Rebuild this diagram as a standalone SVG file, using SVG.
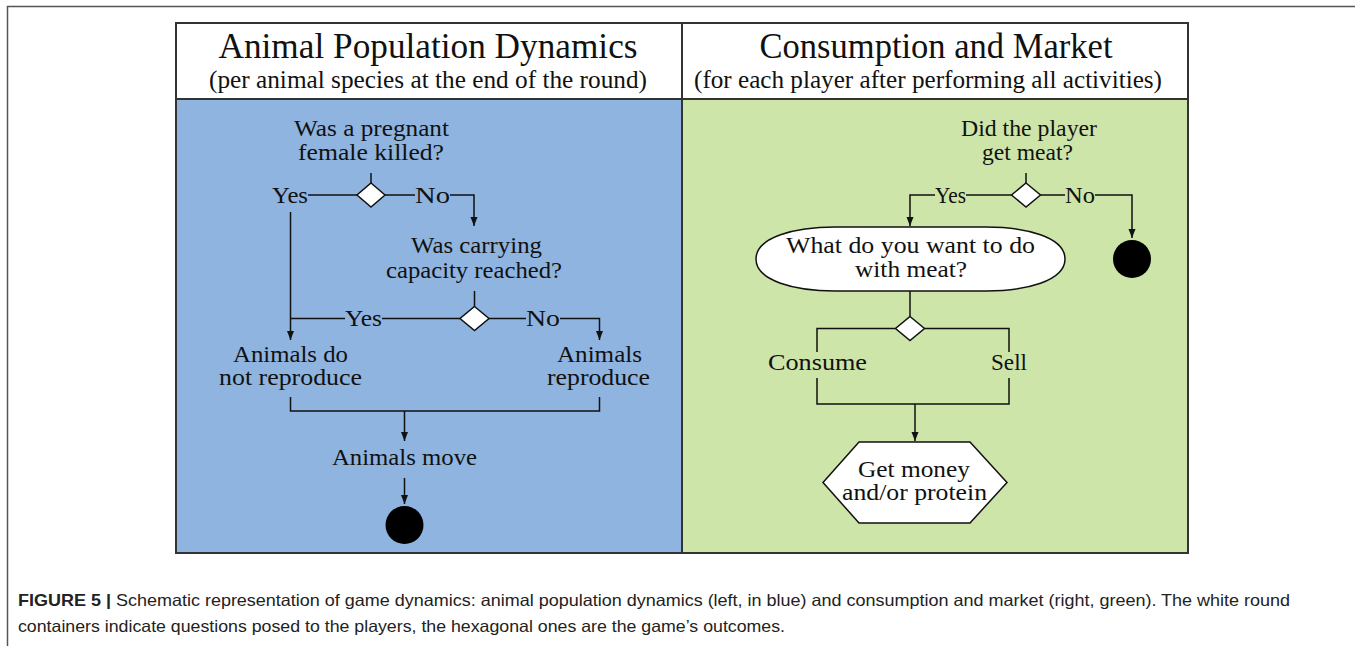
<svg xmlns="http://www.w3.org/2000/svg" width="1355" height="646" viewBox="0 0 1355 646">
<defs>
<marker id="arr" markerWidth="10" markerHeight="10" refX="9" refY="5" orient="auto" markerUnits="userSpaceOnUse"><path d="M0,1.5 L9,5 L0,8.5 Z" fill="#111"/></marker>
</defs>
<style>
.t{font-family:"Liberation Serif","Times New Roman",serif;fill:#111;text-anchor:middle}
.h1{font-size:35px}
.h2{font-size:25px}
.b{font-size:23px}
.ln{fill:none;stroke:#111;stroke-width:1.5}
.ar{fill:none;stroke:#111;stroke-width:1.5;marker-end:url(#arr)}
.dm{fill:#fff;stroke:#111;stroke-width:1.5}
.cap{font-family:"Liberation Sans",Arial,sans-serif;font-size:16.5px;fill:#222}
</style>
<rect x="0" y="0" width="1355" height="646" fill="#fff"/>
<path d="M7.5,646 V6.5 H1355" fill="none" stroke="#555" stroke-width="1.5"/>

<g id="frame">
<rect x="176" y="99" width="506" height="454" fill="#8fb4e0"/>
<rect x="682" y="99" width="506" height="454" fill="#cde5a9"/>
<rect x="176" y="23" width="1012" height="76" fill="#fff"/>
<rect x="176" y="23" width="1012" height="530" fill="none" stroke="#333" stroke-width="2"/>
<line x1="176" y1="99" x2="1188" y2="99" stroke="#333" stroke-width="2"/>
<line x1="682" y1="23" x2="682" y2="553" stroke="#333" stroke-width="2"/>
<text class="t h1" x="428" y="58" textLength="419" lengthAdjust="spacingAndGlyphs">Animal Population Dynamics</text>
<text class="t h2" x="428" y="88" textLength="438" lengthAdjust="spacingAndGlyphs">(per animal species at the end of the round)</text>
<text class="t h1" x="936" y="58" textLength="353" lengthAdjust="spacingAndGlyphs">Consumption and Market</text>
<text class="t h2" x="928" y="88" textLength="468" lengthAdjust="spacingAndGlyphs">(for each player after performing all activities)</text>
</g>

<g id="connectors">
<path class="ln" d="M371,173 V183"/>
<path class="ln" d="M308,195 H357"/>
<path class="ln" d="M385,195 H415"/>
<path class="ar" d="M450,195 H474 V226"/>
<path class="ar" d="M290.5,212 V340"/>
<path class="ln" d="M474.5,291 V306.5"/>
<path class="ln" d="M290.5,318.5 H345"/>
<path class="ln" d="M382,318.5 H460"/>
<path class="ln" d="M489,318.5 H526"/>
<path class="ar" d="M560,318.5 H599.5 V340"/>
<path class="ln" d="M290.5,397 V411 H599.5 V397"/>
<path class="ar" d="M404.5,411 V441"/>
<path class="ar" d="M404.5,478 V504"/>

<path class="ln" d="M1026,173 V183"/>
<path class="ln" d="M1011.5,195 H966"/>
<path class="ar" d="M935,195 H910 V226"/>
<path class="ln" d="M1040.5,195 H1065"/>
<path class="ar" d="M1095,195 H1132 V238"/>
<path class="ln" d="M910,291 V316.5"/>
<path class="ln" d="M895.5,328.5 H817 V352"/>
<path class="ln" d="M924.5,328.5 H1009 V352"/>
<path class="ln" d="M817,378 V404 H1009 V378"/>
<path class="ar" d="M915,404 V441"/>
</g>

<g id="q1">
<text class="t b" x="371.5" y="136" textLength="155" lengthAdjust="spacingAndGlyphs">Was a pregnant</text>
<text class="t b" x="371" y="160" textLength="146" lengthAdjust="spacingAndGlyphs">female killed?</text>
</g>
<g id="d1"><polygon class="dm" points="371,183 385,195 371,207 357,195"/></g>
<g id="l-yes1"><text class="t b" x="290" y="203" textLength="36" lengthAdjust="spacingAndGlyphs">Yes</text></g>
<g id="l-no1"><text class="t b" x="432.5" y="203" textLength="35" lengthAdjust="spacingAndGlyphs">No</text></g>
<g id="q2">
<text class="t b" x="476.5" y="253" textLength="131" lengthAdjust="spacingAndGlyphs">Was carrying</text>
<text class="t b" x="474" y="278" textLength="176" lengthAdjust="spacingAndGlyphs">capacity reached?</text>
</g>
<g id="d2"><polygon class="dm" points="474.5,306.5 489,318.5 474.5,330.5 460,318.5"/></g>
<g id="l-yes2"><text class="t b" x="363.5" y="326" textLength="37" lengthAdjust="spacingAndGlyphs">Yes</text></g>
<g id="l-no2"><text class="t b" x="543" y="326" textLength="34" lengthAdjust="spacingAndGlyphs">No</text></g>
<g id="noreproduce">
<text class="t b" x="290.5" y="362" textLength="115" lengthAdjust="spacingAndGlyphs">Animals do</text>
<text class="t b" x="290.5" y="385" textLength="143" lengthAdjust="spacingAndGlyphs">not reproduce</text>
</g>
<g id="reproduce">
<text class="t b" x="599.5" y="362" textLength="85" lengthAdjust="spacingAndGlyphs">Animals</text>
<text class="t b" x="598.5" y="385" textLength="103" lengthAdjust="spacingAndGlyphs">reproduce</text>
</g>
<g id="move"><text class="t b" x="404.5" y="465" textLength="145" lengthAdjust="spacingAndGlyphs">Animals move</text></g>
<g id="end1"><circle cx="404.5" cy="525" r="19" fill="#000"/></g>

<g id="q3">
<text class="t b" x="1029" y="136" textLength="136" lengthAdjust="spacingAndGlyphs">Did the player</text>
<text class="t b" x="1027.5" y="160" textLength="91" lengthAdjust="spacingAndGlyphs">get meat?</text>
</g>
<g id="d3"><polygon class="dm" points="1026,183 1040.5,195 1026,207 1011.5,195"/></g>
<g id="l-yes3"><text class="t b" x="950.5" y="203" textLength="31" lengthAdjust="spacingAndGlyphs">Yes</text></g>
<g id="l-no3"><text class="t b" x="1080" y="203" textLength="30" lengthAdjust="spacingAndGlyphs">No</text></g>
<g id="end2"><circle cx="1132" cy="259" r="19" fill="#000"/></g>
<g id="q4">
<path d="M756,259 C756,237 795,227 835,227 L986,227 C1026,227 1065,237 1065,259 C1065,281 1026,291 986,291 L835,291 C795,291 756,281 756,259 Z" fill="#fff" stroke="#111" stroke-width="1.5"/>
<text class="t b" x="910.5" y="253" textLength="249" lengthAdjust="spacingAndGlyphs">What do you want to do</text>
<text class="t b" x="911" y="277" textLength="112" lengthAdjust="spacingAndGlyphs">with meat?</text>
</g>
<g id="d4"><polygon class="dm" points="910,316.5 924.5,328.5 910,340.5 895.5,328.5"/></g>
<g id="consume"><text class="t b" x="817.5" y="370" textLength="99" lengthAdjust="spacingAndGlyphs">Consume</text></g>
<g id="sell"><text class="t b" x="1009" y="370" textLength="36" lengthAdjust="spacingAndGlyphs">Sell</text></g>
<g id="outcome">
<polygon points="823,482.5 859,442 970,442 1007,482.5 970,523 859,523" fill="#fff" stroke="#111" stroke-width="1.5"/>
<text class="t b" x="914" y="477" textLength="112" lengthAdjust="spacingAndGlyphs">Get money</text>
<text class="t b" x="914.5" y="500" textLength="145" lengthAdjust="spacingAndGlyphs">and/or protein</text>
</g>

<g id="caption">
<text class="cap" x="18" y="606" textLength="1272" lengthAdjust="spacingAndGlyphs"><tspan font-weight="bold">FIGURE 5 | </tspan>Schematic representation of game dynamics: animal population dynamics (left, in blue) and consumption and market (right, green). The white round</text>
<text class="cap" x="18" y="632" textLength="767" lengthAdjust="spacingAndGlyphs">containers indicate questions posed to the players, the hexagonal ones are the game’s outcomes.</text>
</g>
</svg>
